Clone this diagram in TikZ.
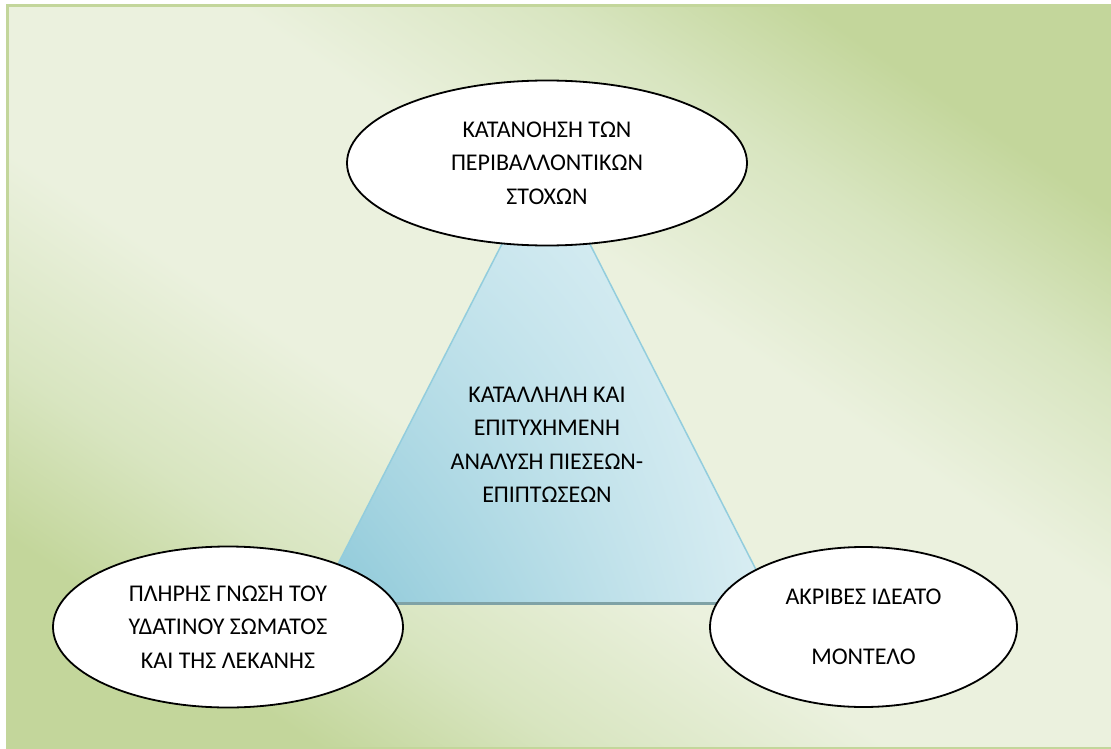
\documentclass[tikz,border=0pt]{standalone}
\usepackage{fontspec}
\setmainfont{Carlito}
\usepackage{xcolor}
\usetikzlibrary{shapes.geometric}
\usetikzlibrary{shadings}
\definecolor{framegreen}{HTML}{C3D69B}
\definecolor{bgmid}{HTML}{D8E5C0}
\definecolor{bglight}{HTML}{EBF1DE}
\definecolor{triedge}{HTML}{93CDDD}
\definecolor{trishadow}{HTML}{7FA2A6}
\definecolor{triUL}{HTML}{C9E6EE}
\definecolor{triUR}{HTML}{E2F2F6}
\definecolor{triLL}{HTML}{8CC8D8}
\definecolor{triLR}{HTML}{DAEEF3}
\pgfdeclareverticalshading{panel}{100bp}{color(0bp)=(framegreen); color(25bp)=(framegreen);
  color(33bp)=(bgmid); color(43bp)=(bglight); color(57bp)=(bglight); color(67bp)=(bgmid);
  color(75bp)=(framegreen); color(100bp)=(framegreen)}
\tikzset{bubble/.style={ellipse, draw, fill=white, line width=1.8pt, align=center, inner sep=0pt,
    font=\fontsize{24}{33.5}\selectfont}}

\begin{document}
\begin{tikzpicture}[x=1pt, y=-1pt]
  \useasboundingbox (0,0) rectangle (1111,749);
  \clip (0,0) rectangle (1111,749);
  % background panel
  \shade[shading=panel, shading angle=-34] (7.5,5.5) rectangle (1120,748);
  \draw[framegreen, line width=3pt] (7.5,5.5) rectangle (1120,748);
  % triangle
  \coordinate (apex) at (546,158);
  \coordinate (bl) at (318,603);
  \coordinate (br) at (773,603);
  \shade[upper left=triUL, upper right=triUR, lower left=triLL, lower right=triLR]
    (apex) -- (br) -- (bl) -- cycle;
  \draw[triedge, line width=1.5pt, line join=round] (bl) -- (apex) -- (br);
  \draw[trishadow, line width=3pt] (bl) -- (br);
  \node[align=center, font=\fontsize{24}{33.5}\selectfont] (analysis) at (547,445)
    {ΚΑΤΑΛΛΗΛΗ ΚΑΙ\\ΕΠΙΤΥΧΗΜΕΝΗ\\ΑΝΑΛΥΣΗ ΠΙΕΣΕΩΝ-\\ΕΠΙΠΤΩΣΕΩΝ};
  % ellipses
  \node[bubble, minimum width=400pt, minimum height=165pt] (goals) at (547,163)
    {ΚΑΤΑΝΟΗΣΗ ΤΩΝ\\ΠΕΡΙΒΑΛΛΟΝΤΙΚΩΝ\\ΣΤΟΧΩΝ};
  \node[bubble, minimum width=350pt, minimum height=161pt] (water) at (228,627)
    {ΠΛΗΡΗΣ ΓΝΩΣΗ ΤΟΥ\\ΥΔΑΤΙΝΟΥ ΣΩΜΑΤΟΣ\\ΚΑΙ ΤΗΣ ΛΕΚΑΝΗΣ};
  \node[bubble, minimum width=307pt, minimum height=160pt] (model) at (863.5,627)
    {ΑΚΡΙΒΕΣ ΙΔΕΑΤΟ\\[26.5pt]ΜΟΝΤΕΛΟ};
\end{tikzpicture}
\end{document}
